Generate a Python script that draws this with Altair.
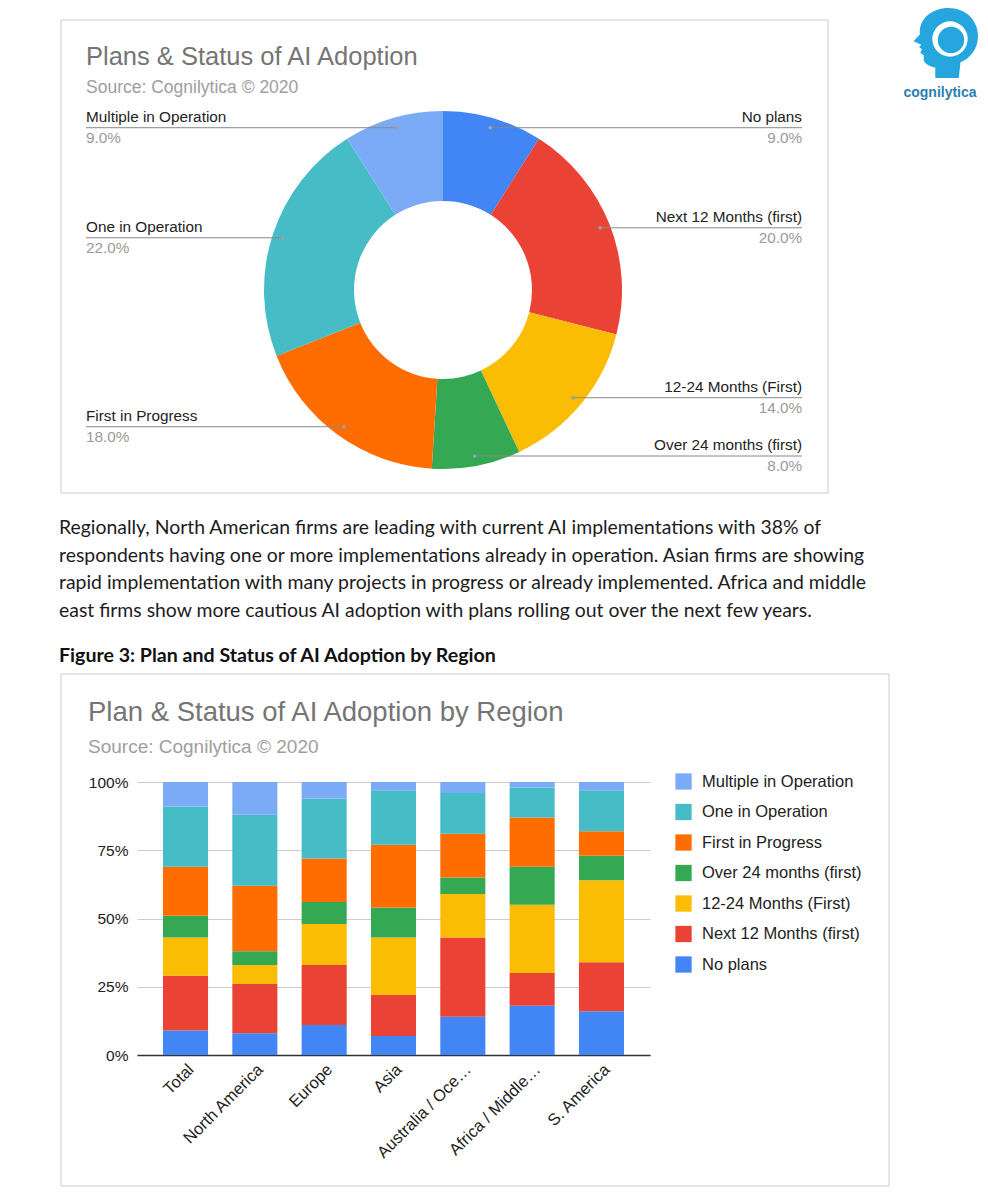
import altair as alt
import pandas as pd
import numpy as np

# ---------------- data ----------------
categories = ["No plans", "Next 12 Months (first)", "12-24 Months (First)",
              "Over 24 months (first)", "First in Progress", "One in Operation",
              "Multiple in Operation"]
colors = ["#4285F4", "#EA4335", "#FBBC04", "#34A853", "#FF6D01", "#46BDC6", "#7BAAF7"]
donut_values = [9, 20, 14, 8, 18, 22, 9]

regions = ["Total", "North America", "Europe", "Asia", "Australia / Oce…",
           "Africa / Middle…", "S. America"]
no_plans = [9, 8, 11, 7, 14, 18, 16]
next_12 = [20, 18, 22, 15, 29, 12, 18]
m12_24 = [14, 7, 15, 21, 16, 25, 30]
over_24 = [8, 5, 8, 11, 6, 14, 9]
first_prog = [18, 24, 16, 23, 16, 18, 9]
one_op = [22, 26, 22, 20, 15, 11, 15]
multiple = [9, 12, 6, 3, 4, 2, 3]
series = [no_plans, next_12, m12_24, over_24, first_prog, one_op, multiple]

y_ticks = [0, 0.25, 0.5, 0.75, 1]

title1 = "Plans & Status of AI Adoption"
title2 = "Plan & Status of AI Adoption by Region"
source = "Source: Cognilytica © 2020"
para_lines = [
    "Regionally, North American firms are leading with current AI implementations with 38% of",
    "respondents having one or more implementations already in operation. Asian firms are showing",
    "rapid implementation with many projects in progress or already implemented. Africa and middle",
    "east firms show more cautious AI adoption with plans rolling out over the next few years.",
]
caption = "Figure 3: Plan and Status of AI Adoption by Region"
logo_text = "cognilytica"

# ---------------- layout helpers ----------------
OX, OY = 137, 782          # page position of the bar plot origin
def vx(x): return x - OX
def vy(y): return y - OY

FONT = "Liberation Sans"
legend_order = categories[::-1]
color_scale = alt.Scale(domain=legend_order,
                        range=[colors[categories.index(c)] for c in legend_order])
legend = alt.Legend(orient="none", legendX=538, legendY=-9, title=None,
                    symbolType="square", symbolSize=265, symbolStrokeWidth=0,
                    symbolOpacity=1, labelFont=FONT, labelFontSize=16.5,
                    labelColor="#222", rowPadding=13.5, labelOffset=10, padding=0,
                    labelLimit=300)

# ---------------- tables ----------------
bar_rows = []
for i, (cat, vals) in enumerate(zip(categories, series)):
    for reg, v in zip(regions, vals):
        bar_rows.append({"region": reg, "cat": cat, "value": v, "ord": i})
bars_df = pd.DataFrame(bar_rows)

donut_df = pd.DataFrame({"cat": categories, "value": donut_values,
                         "ord": list(range(len(categories)))})
CX, CY = vx(443), vy(290)
R_OUT, R_IN, R_DOT = 179, 89, 169
tot = donut_df["value"].sum()
mid = donut_df["value"].cumsum() - donut_df["value"] / 2
ang = mid / tot * 2 * np.pi
donut_df["dotx"] = CX + R_DOT * np.sin(ang)
donut_df["doty"] = CY - R_DOT * np.cos(ang)
donut_df["side"] = np.where(ang < np.pi, "R", "L")
donut_df["edgex"] = np.where(ang < np.pi, vx(802), vx(86))

# ---------------- layers ----------------
def box(x1, y1, x2, y2):
    return alt.Chart(pd.DataFrame({"k": [0]})).mark_rect(
        fill="white", fillOpacity=0, stroke="#cccccc", strokeWidth=1
    ).encode(x=alt.value(vx(x1)), y=alt.value(vy(y1)),
             x2=alt.value(vx(x2)), y2=alt.value(vy(y2)))

def txt(s, x, y, size, color, font=FONT, weight="normal", align="left",
        baseline="middle", **kw):
    return alt.Chart(pd.DataFrame({"t": [s]})).mark_text(
        align=align, baseline=baseline, font=font, fontSize=size, color=color,
        fontWeight=weight, **kw
    ).encode(text="t:N", x=alt.value(vx(x)), y=alt.value(vy(y)))

arcs = alt.Chart(donut_df).mark_arc(radius=R_OUT, radius2=R_IN).encode(
    theta=alt.Theta("value:Q", stack=True),
    color=alt.Color("cat:N", scale=color_scale, legend=legend),
    order=alt.Order("ord:Q"),
    x=alt.value(CX), y=alt.value(CY),
)

lines = alt.Chart(donut_df).mark_rule(color="#888888", strokeWidth=1).encode(
    x=alt.X("dotx:Q", scale=None), x2="edgex:Q",
    y=alt.Y("doty:Q", scale=None), y2="doty:Q",
)
dots = alt.Chart(donut_df).mark_circle(color="#9e9e9e", opacity=1, size=14).encode(
    x=alt.X("dotx:Q", scale=None), y=alt.Y("doty:Q", scale=None),
)

def side_labels(side, align):
    base = alt.Chart(donut_df).transform_filter(f"datum.side == '{side}'")
    names = base.mark_text(align=align, baseline="bottom", dy=-3, font=FONT,
                           fontSize=15.3, color="#222").encode(
        x=alt.X("edgex:Q", scale=None), y=alt.Y("doty:Q", scale=None), text="cat:N")
    pcts = base.transform_calculate(
        lab="format(datum.value, '.1f') + '%'"
    ).mark_text(align=align, baseline="top", dy=3, font=FONT, fontSize=15.3,
                color="#9a9a9a").encode(
        x=alt.X("edgex:Q", scale=None), y=alt.Y("doty:Q", scale=None), text="lab:N")
    return [names, pcts]

bars = alt.Chart(bars_df).mark_bar().encode(
    x=alt.X("region:N", sort=regions,
            scale=alt.Scale(paddingInner=0.35, paddingOuter=0.375),
            axis=alt.Axis(title=None, labelAngle=-45, labelFont=FONT,
                          labelFontSize=16.5, labelColor="#222", ticks=False,
                          domainColor="#333333", domainWidth=1.5, labelPadding=6,
                          labelLimit=300, grid=False)),
    y=alt.Y("value:Q", stack="normalize",
            axis=alt.Axis(title=None, format="%", values=y_ticks, labelFont=FONT,
                          labelFontSize=15.5, labelColor="#222", ticks=False,
                          tickSize=0, domain=False, gridColor="#cccccc",
                          labelPadding=9)),
    color=alt.Color("cat:N", scale=color_scale, legend=legend),
    order=alt.Order("ord:Q"),
)

# logo
HEAD = ("M -0.22 1 L -0.22 0.7 C -0.35 0.68 -0.5 0.62 -0.55 0.5 L -0.55 0.35 "
        "L -0.65 0.28 L -0.6 0.18 L -0.68 0.12 L -0.62 0.05 L -0.84 -0.05 "
        "L -0.66 -0.25 C -0.7 -0.7 -0.3 -1 0.15 -1 C 0.65 -1 1 -0.65 1 -0.2 "
        "C 1 0.2 0.75 0.45 0.5 0.55 L 0.45 1 Z")
def logo_pt(shape, x, y, size, color):
    return alt.Chart(pd.DataFrame({"k": [0]})).mark_point(
        shape=shape, filled=True, size=size, color=color, opacity=1, strokeWidth=0
    ).encode(x=alt.value(vx(x)), y=alt.value(vy(y)))

logo = [
    logo_pt(HEAD, 943, 43, 4900, "#25a6de"),
    logo_pt("circle", 950, 39, 1250, "white"),
    logo_pt("circle", 951, 40, 700, "#25a6de"),
    txt(logo_text, 940, 93, 14, "#2b7fb0", weight="bold", align="center"),
]

layers = [
    box(61, 20, 828, 493),
    box(61, 674, 889, 1186),
    txt(title1, 86, 57, 25.5, "#757575"),
    txt(source, 86, 88, 17.5, "#9e9e9e"),
    arcs, lines, dots,
    *side_labels("R", "right"), *side_labels("L", "left"),
    txt("\n".join(para_lines), 59, 519, 19.4, "#1c1c1c", font="Lato",
        baseline="top", lineBreak="\n", lineHeight=27.6),
    txt(caption, 59, 656, 19.6, "#111111", font="Lato", weight="bold"),
    txt(title2, 88, 713, 27.5, "#757575"),
    txt(source, 88, 747, 19, "#9e9e9e"),
    bars,
    *logo,
]

chart = alt.layer(*layers).properties(
    width=513, height=273,
    autosize=alt.AutoSizeParams(type="none"),
    padding={"left": 129, "top": 774, "right": 330, "bottom": 137},
).configure_view(stroke=None)

chart.save("out.html", embed_options={"renderer": "svg", "actions": False})
